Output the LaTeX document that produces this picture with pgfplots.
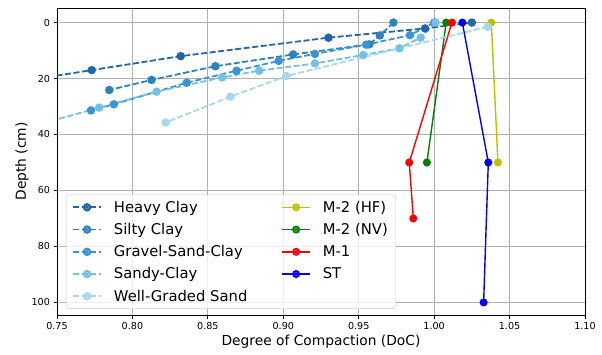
\documentclass[border=0pt]{standalone}
\usepackage{fontspec}
\setmainfont{DejaVu Sans}
\usepackage{pgfplots}
\pgfplotsset{compat=1.18}
\definecolor{hc}{RGB}{33,102,172}
\definecolor{sc}{RGB}{43,131,190}
\definecolor{gsc}{RGB}{58,147,211}
\definecolor{sac}{RGB}{116,192,230}
\definecolor{wgs}{RGB}{166,216,240}
\definecolor{myyel}{RGB}{191,191,0}
\definecolor{mygreen}{RGB}{0,128,0}
\definecolor{gridgray}{RGB}{176,176,176}
\definecolor{leggray}{RGB}{204,204,204}
\begin{document}
\begin{tikzpicture}
\begin{axis}[
  scale only axis, width=528pt, height=307pt,
  xmin=0.75, xmax=1.10, ymin=-5.2, ymax=104.5, y dir=reverse,
  xtick={0.75,0.80,0.85,0.90,0.95,1.00,1.05,1.10},
  ytick={0,20,40,60,80,100},
  xticklabel style={/pgf/number format/.cd, fixed, fixed zerofill, precision=2},
  /pgf/number format/assume math mode=true,
  tick label style={font=\fontsize{9.6}{11}\selectfont},
  label style={font=\fontsize{13.8}{15}\selectfont},
  xlabel={Degree of Compaction (DoC)},
  ylabel={Depth (cm)},
  xlabel style={at={(axis description cs:0.5,-0.088)}, anchor=center},
  ylabel style={at={(axis description cs:-0.066,0.5)}, anchor=center},
  tick align=outside, xtick pos=bottom, ytick pos=left,
  major tick length=3.5pt,
  every tick/.style={black, line width=0.8pt},
  axis line style={line width=0.9pt},
  grid=major, grid style={gridgray, line width=0.8pt},
  legend columns=2,
  legend cell align=left,
  legend style={at={(axis description cs:0.017,0.02)}, anchor=south west,
    draw=leggray, rounded corners=2pt, fill=white, fill opacity=0.8, text opacity=1,
    font=\fontsize{14.8}{16}\selectfont, row sep=5.5pt, inner xsep=6pt, inner ysep=4pt},
  legend image code/.code={\draw[mark repeat=2,mark phase=2,#1] plot coordinates {(0pt,0pt) (14pt,0pt) (28pt,0pt)};},
  /tikz/every odd column/.append style={column sep=10pt},
  /tikz/every even column/.append style={column sep=32pt},
  dashline/.style={dash pattern=on 6pt off 2.6pt, line width=1.8pt, mark=*, mark size=3.3pt, every mark/.append style={solid}},
  solidline/.style={solid, line width=1.4pt, mark=*, mark size=3.3pt},
]
\addplot[dashline, color=hc] coordinates {(1.025,0) (0.994,2.1) (0.930,5.4) (0.832,12.0) (0.773,17.0) (0.70,23.2)};
\addlegendentry{Heavy Clay}
\addplot[solidline, color=myyel] coordinates {(1.0379,0) (1.0423,50)};
\addlegendentry{M-2 (HF)}
\addplot[dashline, color=sc] coordinates {(0.973,0) (0.964,4.6) (0.957,7.8) (0.9065,11.4) (0.855,15.6) (0.8127,20.5) (0.7847,24.1)};
\addlegendentry{Silty Clay}
\addplot[solidline, color=mygreen] coordinates {(1.008,0) (0.9952,50)};
\addlegendentry{M-2 (NV)}
\addplot[dashline, color=gsc] coordinates {(1.000,0) (0.984,4.5) (0.955,7.9) (0.921,11.2) (0.897,13.7) (0.869,17.2) (0.836,21.5) (0.7877,29.2) (0.7725,31.4)};
\addlegendentry{Gravel-Sand-Clay}
\addplot[solidline, color=red] coordinates {(1.0118,0) (0.9835,50) (0.9862,70)};
\addlegendentry{M-1}
\addplot[dashline, color=sac] coordinates {(1.001,0) (0.991,5.4) (0.977,9.2) (0.953,11.6) (0.921,14.6) (0.884,17.2) (0.8595,19.6) (0.816,24.7) (0.778,30.4) (0.70,42.1)};
\addlegendentry{Sandy-Clay}
\addplot[solidline, color=blue] coordinates {(1.0187,0) (1.0359,50) (1.0328,100)};
\addlegendentry{ST}
\addplot[dashline, color=wgs] coordinates {(1.0356,1.5) (0.902,19.1) (0.865,26.5) (0.822,35.7)};
\addlegendentry{Well-Graded Sand}
\end{axis}
\pgfresetboundingbox
\path ([shift={(-57pt,-39pt)}]current axis.south west) rectangle ([shift={(17pt,8pt)}]current axis.north east);
\end{tikzpicture}
\end{document}
